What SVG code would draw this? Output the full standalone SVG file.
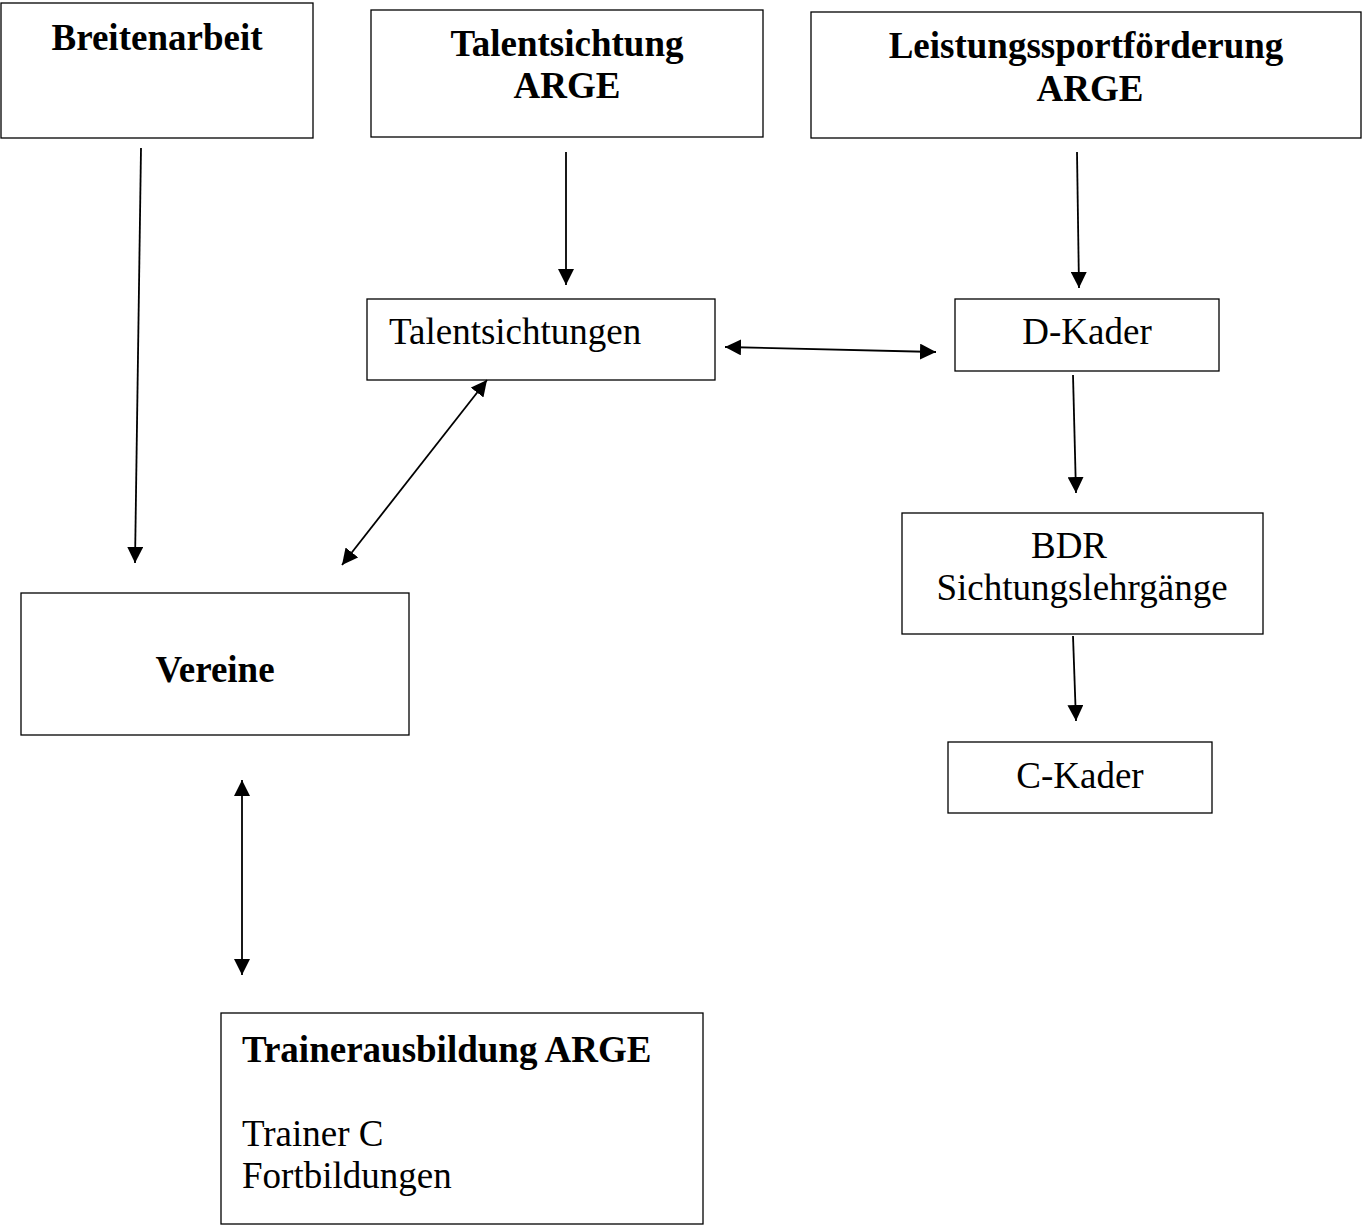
<svg xmlns="http://www.w3.org/2000/svg" width="1363" height="1226" viewBox="0 0 1363 1226">
<style>
.box{fill:#fff;stroke:#000;stroke-width:1.3}
.t{font-family:"Liberation Serif","Times New Roman",serif;font-size:37px;fill:#000}
.b{font-weight:bold}
.c{stroke:#000;stroke-width:1.8;fill:none}
</style>
<defs>
<marker id="ah" markerUnits="userSpaceOnUse" viewBox="0 0 16 16" markerWidth="16" markerHeight="16" refX="16" refY="8" orient="auto-start-reverse">
<path d="M0,0 L16,8 L0,16 Z" fill="#000"/>
</marker>
</defs>
<rect width="1363" height="1226" fill="#fff"/>
<g id="breitenarbeit"><rect class="box" x="1" y="3" width="312" height="135"/><text class="t b" x="157" y="50" text-anchor="middle">Breitenarbeit</text></g>
<g id="talentsichtung-arge"><rect class="box" x="371" y="10" width="392" height="127"/><text class="t b" x="567" y="56" text-anchor="middle">Talentsichtung</text><text class="t b" x="567" y="98" text-anchor="middle">ARGE</text></g>
<g id="leistungssport"><rect class="box" x="811" y="12" width="550" height="126"/><text class="t b" x="1086" y="58" text-anchor="middle">Leistungssportförderung</text><text class="t b" x="1090" y="101" text-anchor="middle">ARGE</text></g>
<g id="talentsichtungen"><rect class="box" x="367" y="299" width="348" height="81"/><text class="t" x="389" y="344">Talentsichtungen</text></g>
<g id="d-kader"><rect class="box" x="955" y="299" width="264" height="72"/><text class="t" x="1087" y="344" text-anchor="middle">D-Kader</text></g>
<g id="bdr"><rect class="box" x="902" y="513" width="361" height="121"/><text class="t" x="1069" y="558" text-anchor="middle">BDR</text><text class="t" x="1082" y="600" text-anchor="middle">Sichtungslehrgänge</text></g>
<g id="c-kader"><rect class="box" x="948" y="742" width="264" height="71"/><text class="t" x="1080" y="788" text-anchor="middle">C-Kader</text></g>
<g id="vereine"><rect class="box" x="21" y="593" width="388" height="142"/><text class="t b" x="215" y="682" text-anchor="middle">Vereine</text></g>
<g id="trainerausbildung"><rect class="box" x="221" y="1013" width="482" height="211"/><text class="t b" x="242" y="1062">Trainerausbildung ARGE</text><text class="t" x="242" y="1146">Trainer C</text><text class="t" x="242" y="1188">Fortbildungen</text></g>
<g id="connectors">
<line class="c" x1="141" y1="148" x2="135" y2="563" marker-end="url(#ah)"/>
<line class="c" x1="566" y1="152" x2="566" y2="285" marker-end="url(#ah)"/>
<line class="c" x1="1077" y1="152" x2="1079" y2="288" marker-end="url(#ah)"/>
<line class="c" x1="725" y1="347" x2="936" y2="352" marker-start="url(#ah)" marker-end="url(#ah)"/>
<line class="c" x1="487" y1="380" x2="342" y2="565" marker-start="url(#ah)" marker-end="url(#ah)"/>
<line class="c" x1="1073" y1="375" x2="1076" y2="493" marker-end="url(#ah)"/>
<line class="c" x1="1073" y1="636" x2="1076" y2="721" marker-end="url(#ah)"/>
<line class="c" x1="242" y1="780" x2="242" y2="975" marker-start="url(#ah)" marker-end="url(#ah)"/>
</g>
</svg>
